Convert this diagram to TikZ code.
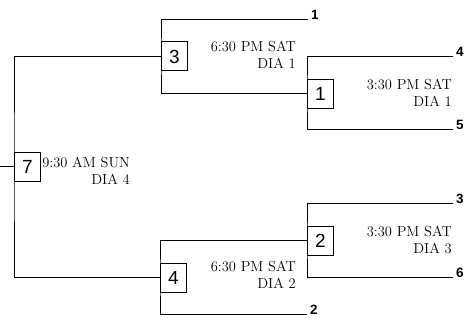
\documentclass[tikz,border=0pt]{standalone}
\usepackage{fontspec}
\setsansfont{Liberation Sans}
\usepackage{tikz}
\usetikzlibrary{positioning}
\tikzset{
gamebox/.style={
  draw,
  line width=1pt,
  fill=white,
  inner sep=0pt,
  minimum width=26pt,
  minimum height=29pt,
  anchor=west,
  font=\sffamily\fontsize{19}{19}\selectfont
},
seedlabel/.style={
  inner xsep=3pt,
  inner ysep=0pt,
  anchor=base west,
  font=\sffamily\bfseries\fontsize{13.5}{13.5}\selectfont
},
timelabel/.style={
  align=right,
  inner sep=0pt,
  anchor=base east,
  font=\fontsize{14.5}{17.5}\selectfont
},
bracket/.style={
  line width=1pt
}
}
\begin{document}
\begin{tikzpicture}[x=1pt, y=-1pt]
  \useasboundingbox (0,0) rectangle (475,328);
  % Games
  \node[gamebox] (g3) at (161,56.5) {3};
  \node[gamebox] (g1) at (307,94) {1};
  \node[gamebox] (g7) at (14,167) {7};
  \node[gamebox] (g2) at (307,241) {2};
  \node[gamebox] (g4) at (160,278) {4};
  % Seeds
  \node[seedlabel] (s1) at (308,19.5) {1};
  \node[seedlabel] (s4) at (453,57) {4};
  \node[seedlabel] (s5) at (453,130) {5};
  \node[seedlabel] (s3) at (453,204) {3};
  \node[seedlabel] (s6) at (453,278) {6};
  \node[seedlabel] (s2) at (307,315) {2};
  \coordinate (root) at (0,167);
  % Times (anchored on the last line)
  \node[timelabel] (t3) at (296,69) {6:30 PM SAT\\DIA 1};
  \node[timelabel] (t1) at (452,107) {3:30 PM SAT\\DIA 1};
  \node[timelabel] (t7) at (130,185) {9:30 AM SUN\\DIA 4};
  \node[timelabel] (t2) at (452,254) {3:30 PM SAT\\DIA 3};
  \node[timelabel] (t4) at (296,289) {6:30 PM SAT\\DIA 2};
  % Brackets
  \draw[bracket] (s1.base west) -| (g3.west) |- (g1.west);
  \draw[bracket] (s4.base west) -| (g1.west) |- (s5.base west);
  \draw[bracket] (g3.west) -| (g7.west) |- (g4.west);
  \draw[bracket] (root) -- (g7.west);
  \draw[bracket] (s3.base west) -| (g2.west) |- (s6.base west);
  \draw[bracket] (g2.west) -| (g4.west) |- (s2.base west);
\end{tikzpicture}
\end{document}
